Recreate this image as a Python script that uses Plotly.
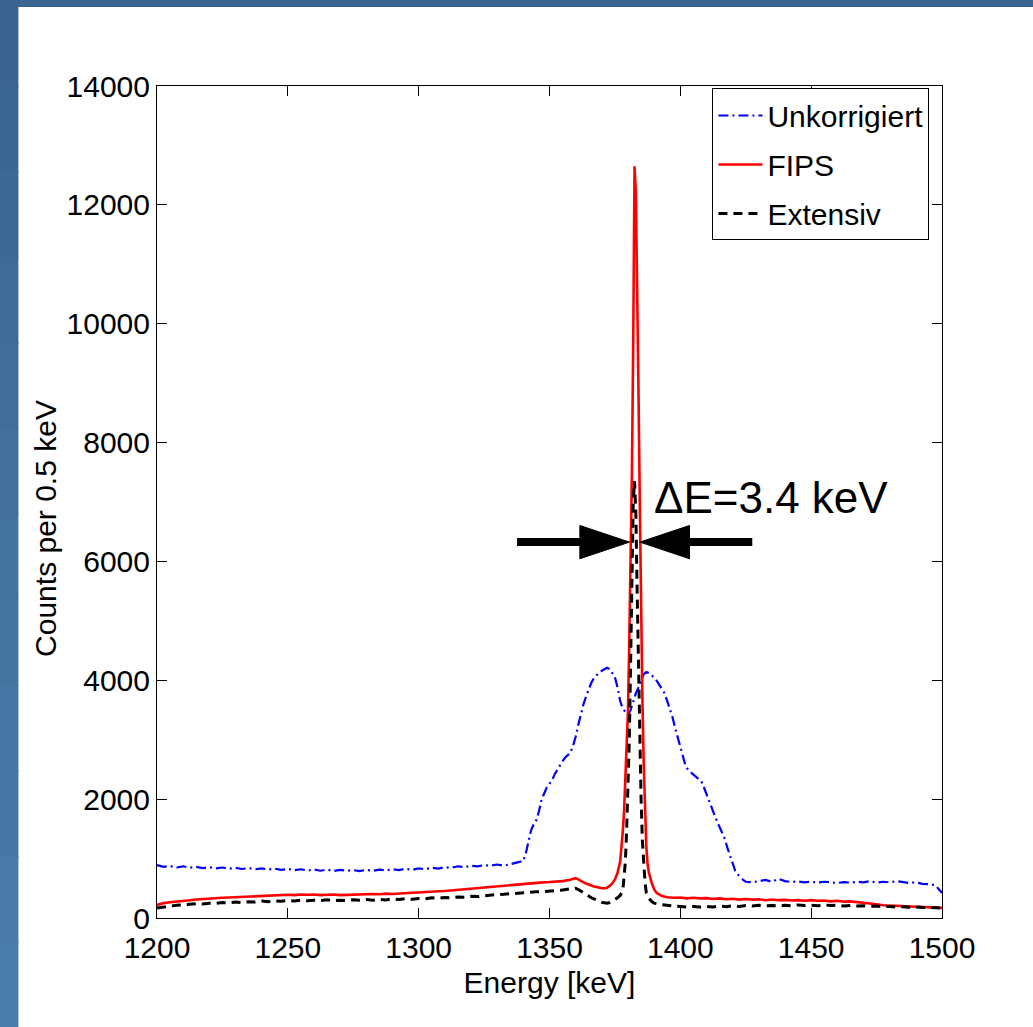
import plotly.graph_objects as go

# ---------------- data ----------------
blue_x = [1200, 1202.5, 1205, 1207.5, 1210, 1212.5, 1215, 1217.5, 1220, 1222.5, 1225, 1227.5, 1230, 1232.5,
          1235, 1237.5, 1240, 1242.5, 1245, 1247.5, 1250, 1252.5, 1255, 1257.5, 1260, 1262.5, 1265, 1267.5,
          1270, 1272.5, 1275, 1277.5, 1280, 1282.5, 1285, 1287.5, 1290, 1292.5, 1295, 1297.5, 1300, 1302.5,
          1305, 1307.5, 1310, 1312.5, 1315, 1317.5, 1320, 1322.5, 1325, 1327.5, 1330, 1332.5, 1335, 1337.5,
          1340, 1341, 1342, 1343, 1344, 1345, 1346, 1347, 1348, 1349, 1350, 1351, 1352, 1353, 1354, 1355,
          1356, 1357, 1358, 1359, 1360, 1361, 1362, 1363, 1364, 1365, 1366, 1367, 1368, 1369, 1370, 1371,
          1372, 1373, 1374, 1375, 1376, 1377, 1378, 1379, 1380, 1381, 1382, 1383, 1384, 1385, 1386, 1387,
          1388, 1389, 1390, 1391, 1392, 1393, 1394, 1395, 1396, 1397, 1398, 1399, 1400, 1401, 1402, 1403,
          1404, 1405, 1406, 1407, 1408, 1409, 1410, 1411, 1412, 1413, 1414, 1415, 1416, 1417, 1418, 1419,
          1420, 1421, 1422, 1423, 1424, 1425, 1427.5, 1430, 1432.5, 1435, 1437.5, 1440, 1442.5, 1445,
          1447.5, 1450, 1452.5, 1455, 1457.5, 1460, 1462.5, 1465, 1467.5, 1470, 1472.5, 1475, 1477.5, 1480,
          1482.5, 1485, 1487.5, 1490, 1492.5, 1495, 1497.5, 1500]
blue_y = [890, 860, 875, 850, 870, 845, 860, 840, 855, 835, 850, 830, 845, 825,
          840, 820, 835, 815, 830, 810, 825, 805, 820, 800, 815, 795, 815, 790,
          810, 795, 805, 790, 810, 795, 815, 800, 820, 805, 830, 810, 835, 820,
          845, 830, 855, 845, 870, 855, 880, 870, 890, 880, 900, 880, 905, 930,
          960, 1100, 1300, 1480, 1580, 1650, 1800, 2000, 2100, 2200, 2260, 2320, 2420, 2500, 2580, 2640,
          2700, 2740, 2780, 2900, 3050, 3250, 3450, 3600, 3730, 3850, 3960, 4040, 4090, 4130, 4160, 4180,
          4210, 4190, 4130, 4050, 3880, 3650, 3520, 3460, 3420, 3500, 3650, 3780, 3880, 3980, 4100, 4140,
          4120, 4080, 4050, 3990, 3920, 3860, 3780, 3650, 3520, 3380, 3200, 3030, 2850, 2680, 2560, 2490,
          2450, 2410, 2370, 2340, 2300, 2200, 2080, 1950, 1840, 1740, 1630, 1530, 1440, 1330, 1180, 1040,
          900, 790, 730, 680, 640, 610, 600, 620, 640, 610, 660, 620, 605, 615,
          600, 610, 595, 610, 600, 590, 605, 595, 610, 600, 620, 595, 610, 600,
          620, 605, 590, 600, 575, 570, 550, 420]

red_x = [1200, 1202.5, 1205, 1207.5, 1210, 1212.5, 1215, 1217.5, 1220, 1222.5, 1225, 1227.5, 1230, 1232.5,
         1235, 1237.5, 1240, 1242.5, 1245, 1247.5, 1250, 1252.5, 1255, 1257.5, 1260, 1262.5, 1265, 1267.5,
         1270, 1272.5, 1275, 1277.5, 1280, 1282.5, 1285, 1287.5, 1290, 1292.5, 1295, 1297.5, 1300, 1302.5,
         1305, 1307.5, 1310, 1312.5, 1315, 1317.5, 1320, 1322.5, 1325, 1327.5, 1330, 1332.5, 1335, 1337.5,
         1340, 1342.5, 1345, 1347.5, 1350, 1352.5, 1355, 1357.5, 1359, 1360, 1361, 1362, 1363, 1364, 1365,
         1366, 1367, 1368, 1369, 1370, 1371, 1372, 1373, 1374, 1375, 1376, 1377, 1377.5, 1378, 1378.5,
         1379, 1379.5, 1380, 1380.5, 1381, 1381.5, 1382, 1382.5, 1383, 1383.5, 1384, 1384.5, 1385, 1385.5,
         1386, 1386.5, 1387, 1387.5, 1388, 1389, 1390, 1391, 1392, 1393, 1395, 1397.5, 1400, 1402.5, 1405,
         1407.5, 1410, 1412.5, 1415, 1417.5, 1420, 1422.5, 1425, 1427.5, 1430, 1432.5, 1435, 1437.5, 1440,
         1442.5, 1445, 1447.5, 1450, 1452.5, 1455, 1457.5, 1460, 1462.5, 1465, 1467.5, 1470, 1472.5, 1475,
         1477.5, 1480, 1482.5, 1485, 1487.5, 1490, 1492.5, 1495, 1497.5, 1500]
red_y = [220, 250, 265, 280, 290, 300, 310, 320, 325, 335, 340, 345, 350, 355,
         360, 370, 375, 370, 385, 380, 390, 385, 395, 390, 395, 385, 390, 395,
         385, 390, 395, 400, 395, 405, 400, 410, 405, 415, 420, 425, 430, 440,
         445, 450, 455, 465, 470, 480, 490, 500, 510, 520, 530, 545, 560, 570,
         580, 590, 595, 600, 605, 610, 620, 640, 660, 670, 650, 620, 600, 580, 560,
         540, 530, 520, 505, 500, 500, 510, 540, 580, 650, 760, 950, 1150, 1450, 1800,
         2300, 2900, 3500, 4700, 6000, 7500, 9700, 12650, 12200, 10900, 8900, 7000, 5000, 3700,
         2600, 1800, 1200, 900, 760, 600, 480, 420, 390, 370, 350, 340, 345, 330, 340,
         330, 335, 320, 330, 315, 325, 310, 320, 310, 315, 300, 310, 300, 305,
         295, 300, 290, 300, 290, 295, 280, 290, 275, 280, 270, 260, 240, 230,
         215, 210, 200, 205, 190, 195, 185, 180, 175, 170]

black_x = [1200, 1202.5, 1205, 1207.5, 1210, 1212.5, 1215, 1217.5, 1220, 1222.5, 1225, 1227.5, 1230, 1232.5,
           1235, 1237.5, 1240, 1242.5, 1245, 1247.5, 1250, 1252.5, 1255, 1257.5, 1260, 1262.5, 1265, 1267.5,
           1270, 1272.5, 1275, 1277.5, 1280, 1282.5, 1285, 1287.5, 1290, 1292.5, 1295, 1297.5, 1300, 1302.5,
           1305, 1307.5, 1310, 1312.5, 1315, 1317.5, 1320, 1322.5, 1325, 1327.5, 1330, 1332.5, 1335, 1337.5,
           1340, 1342.5, 1345, 1347.5, 1350, 1352.5, 1355, 1357.5, 1360, 1361, 1362, 1363, 1364, 1365,
           1366, 1367, 1368, 1369, 1370, 1371, 1372, 1373, 1374, 1375, 1376, 1377, 1378, 1378.5, 1379,
           1379.5, 1380, 1380.5, 1381, 1381.5, 1382, 1382.5, 1383, 1383.5, 1384, 1384.5, 1385, 1385.5,
           1386, 1386.5, 1387, 1388, 1389, 1390, 1392, 1395, 1397.5, 1400, 1402.5, 1405, 1407.5, 1410,
           1412.5, 1415, 1417.5, 1420, 1422.5, 1425, 1427.5, 1430, 1432.5, 1435, 1437.5, 1440, 1442.5,
           1445, 1447.5, 1450, 1452.5, 1455, 1457.5, 1460, 1462.5, 1465, 1467.5, 1470, 1472.5, 1475,
           1477.5, 1480, 1482.5, 1485, 1487.5, 1490, 1492.5, 1495, 1497.5, 1500]
black_y = [170, 190, 200, 215, 225, 230, 240, 235, 250, 245, 260, 255, 270, 260,
           275, 270, 285, 275, 290, 280, 295, 285, 300, 290, 300, 295, 305, 290,
           300, 295, 305, 300, 310, 300, 315, 305, 320, 310, 325, 315, 330, 325,
           340, 330, 345, 340, 355, 350, 365, 360, 375, 380, 395, 400, 410, 415,
           425, 430, 440, 445, 450, 460, 470, 490, 500, 480, 450, 420, 390, 360,
           340, 320, 300, 280, 265, 255, 250, 260, 280, 310, 340, 380, 450, 650, 950,
           1500, 2100, 3000, 4300, 5800, 7000, 7350, 6800, 5500, 4300, 3000, 2000, 1300,
           900, 600, 420, 330, 280, 250, 230, 210, 200, 195, 185, 195, 185, 195,
           185, 200, 190, 205, 195, 210, 200, 215, 205, 210, 200, 215, 205,
           220, 210, 215, 205, 220, 210, 215, 200, 210, 200, 205, 195, 200,
           190, 195, 185, 190, 180, 185, 175, 180, 170, 165]

series_names = ["Unkorrigiert", "FIPS", "Extensiv"]
x_ticks = [1200, 1250, 1300, 1350, 1400, 1450, 1500]
y_ticks = [0, 2000, 4000, 6000, 8000, 10000, 12000, 14000]

# FWHM marker values
fwhm_left = 1380.6
fwhm_right = 1384.5
half_max = 12650 / 2
delta_label = "ΔE=3.4 keV"

FONT = "Liberation Sans, Arial, sans-serif"

fig = go.Figure()
fig.add_trace(go.Scatter(x=blue_x, y=blue_y, mode="lines", name=series_names[0], legendgroup="a",
                         line=dict(color="#0000ff", width=2.2, dash="10px,4px,2px,4px")))
fig.add_trace(go.Scatter(x=red_x, y=red_y, mode="lines", name=series_names[1], legendgroup="b",
                         line=dict(color="#ff0000", width=2.6)))
fig.add_trace(go.Scatter(x=black_x, y=black_y, mode="lines", name=series_names[2], legendgroup="c",
                         line=dict(color="#000000", width=3, dash="9px,6px")))

shapes = []
# blue frame strips (gradient approximation)
top_c = (59, 101, 144)
bot_c = (74, 124, 170)
nb = 12
for i in range(nb):
    t = i / (nb - 1)
    c = tuple(int(round(top_c[k] + (bot_c[k] - top_c[k]) * t)) for k in range(3))
    y1 = 1 + 86 / 832 - i * (1027 / 832) / nb
    y0 = 1 + 86 / 832 - (i + 1) * (1027 / 832) / nb
    shapes.append(dict(type="rect", xref="paper", yref="paper",
                       x0=-157.5 / 784.5, x1=(19 - 157.5) / 784.5, y0=y0 - 0.002, y1=y1,
                       fillcolor="rgb(%d,%d,%d)" % c, line=dict(width=0), layer="below"))
shapes.append(dict(type="rect", xref="paper", yref="paper",
                   x0=-157.5 / 784.5, x1=(1033 - 157.5) / 784.5,
                   y0=(918 - 7) / 832, y1=918 / 832,
                   fillcolor="rgb(59,101,144)", line=dict(width=0), layer="below"))

# FWHM arrows
head_len = 19.0
head_half = 280
shaft_len = 24.0
shapes.append(dict(type="line", x0=fwhm_left - head_len - shaft_len, x1=fwhm_left - head_len + 0.5,
                   y0=half_max, y1=half_max, line=dict(color="black", width=8)))
shapes.append(dict(type="path",
                   path="M %f,%f L %f,%f L %f,%f Z" % (fwhm_left, half_max,
                                                      fwhm_left - head_len, half_max + head_half,
                                                      fwhm_left - head_len, half_max - head_half),
                   fillcolor="black", line=dict(color="black", width=1)))
shapes.append(dict(type="line", x0=fwhm_right + head_len - 0.5, x1=fwhm_right + head_len + shaft_len,
                   y0=half_max, y1=half_max, line=dict(color="black", width=8)))
shapes.append(dict(type="path",
                   path="M %f,%f L %f,%f L %f,%f Z" % (fwhm_right, half_max,
                                                      fwhm_right + head_len, half_max + head_half,
                                                      fwhm_right + head_len, half_max - head_half),
                   fillcolor="black", line=dict(color="black", width=1)))

fig.update_layout(
    width=1033, height=1027,
    margin=dict(l=157, r=91, t=86, b=109),
    paper_bgcolor="white", plot_bgcolor="white",
    font=dict(family=FONT, size=30, color="black"),
    shapes=shapes,
    showlegend=True,
    legend=dict(x=0.984, y=0.997, xanchor="right", yanchor="top",
                bordercolor="black", borderwidth=1, bgcolor="white",
                font=dict(family=FONT, size=30, color="black"),
                itemwidth=44, tracegroupgap=7),
    annotations=[
        dict(x=fwhm_right + 4.7, y=half_max + 750, xref="x", yref="y",
             text=delta_label, showarrow=False, xanchor="left", yanchor="middle",
             font=dict(family=FONT, size=44, color="black")),
        dict(x=(45 - 157) / 784.5, y=(918 - 528) / 832, xref="paper", yref="paper",
             text="Counts per 0.5 keV", showarrow=False, textangle=-90,
             xanchor="center", yanchor="middle",
             font=dict(family=FONT, size=30, color="black")),
    ],
)
fig.update_xaxes(range=[1200, 1500], tickvals=x_ticks, ticktext=[str(v) for v in x_ticks],
                 ticks="inside", ticklen=10, tickcolor="black", showline=True, linecolor="black",
                 linewidth=1, mirror="ticks", showgrid=False, zeroline=False,
                 ticklabelstandoff=3,
                 title=dict(text="Energy [keV]", font=dict(family=FONT, size=30), standoff=8))
fig.update_yaxes(range=[0, 14000], tickvals=y_ticks, ticktext=[str(v) for v in y_ticks],
                 ticks="inside", ticklen=10, tickcolor="black", showline=True, linecolor="black",
                 linewidth=1, mirror="ticks", showgrid=False, zeroline=False)

fig.write_html("out.html")
